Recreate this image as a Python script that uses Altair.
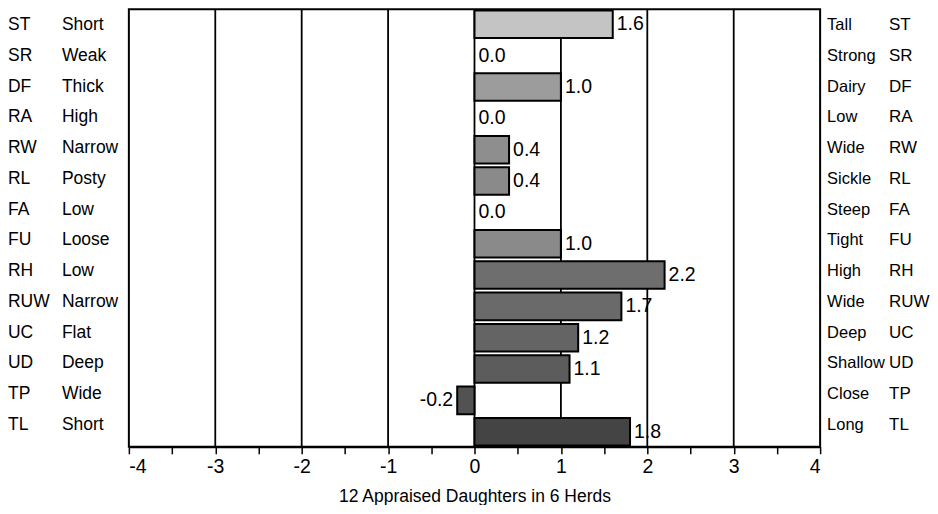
import altair as alt
import pandas as pd

codes = ["ST", "SR", "DF", "RA", "RW", "RL", "FA", "FU", "RH", "RUW", "UC", "UD", "TP", "TL"]
low_desc = ["Short", "Weak", "Thick", "High", "Narrow", "Posty", "Low", "Loose", "Low", "Narrow", "Flat", "Deep", "Wide", "Short"]
high_desc = ["Tall", "Strong", "Dairy", "Low", "Wide", "Sickle", "Steep", "Tight", "High", "Wide", "Deep", "Shallow", "Close", "Long"]
values = [1.6, 0.0, 1.0, 0.0, 0.4, 0.4, 0.0, 1.0, 2.2, 1.7, 1.2, 1.1, -0.2, 1.8]
colors = ["#c4c4c4", "#9c9c9c", "#9c9c9c", "#9c9c9c", "#8e8e8e", "#8a8a8a", "#8a8a8a",
          "#8a8a8a", "#6e6e6e", "#6a6a6a", "#646464", "#5c5c5c", "#525252", "#444444"]
grid_vals = [-3, -2, -1, 0, 1, 2, 3]
tick_vals = [-4, -3.5, -3, -2.5, -2, -1.5, -1, -0.5, 0, 0.5, 1, 1.5, 2, 2.5, 3, 3.5, 4]
x_title = "12 Appraised Daughters in 6 Herds"

df = pd.DataFrame({
    "code": codes, "low": low_desc, "high": high_desc, "value": values,
    "color": colors, "label": [f"{v:.1f}" for v in values],
    "idx": list(range(len(codes))),
})
grid_df = pd.DataFrame({"g": grid_vals})

FONT = "Liberation Sans"
W, H = 692, 438

xscale = alt.Scale(domain=[-4, 4], nice=False)
yenc = alt.Y("code:N", sort=codes, axis=None,
             scale=alt.Scale(domain=codes, paddingInner=0.12, paddingOuter=0.04))
# side category labels sit on their own, slightly tighter spacing
yside = alt.Y("idx:Q", axis=None,
              scale=alt.Scale(domain=[-0.52, 13.715], reverse=True, nice=False, zero=False))

grid = alt.Chart(grid_df).mark_rule(color="black", strokeWidth=1.8).encode(
    x=alt.X("g:Q", scale=xscale)
)

bars = alt.Chart(df).transform_filter("datum.value != 0").mark_bar(
    stroke="black", strokeWidth=2
).encode(
    x=alt.X("value:Q", scale=xscale,
            axis=alt.Axis(values=tick_vals,
                          labelExpr="datum.value % 1 == 0 ? ('' + datum.value) : ''",
                          grid=False, domain=True, domainColor="black", domainWidth=2,
                          tickColor="black", tickWidth=1.5, tickSize=7,
                          labelFont=FONT, labelFontSize=19.5, labelColor="black",
                          labelPadding=4, title=x_title, titleFont=FONT, titleFontSize=17.5,
                          titleFontWeight="normal", titleColor="black", titlePadding=11)),
    x2=alt.datum(0),
    y=yenc,
    color=alt.Color("color:N", scale=None),
)

pos_labels = alt.Chart(df).transform_filter("datum.value >= 0").mark_text(
    align="left", baseline="middle", dx=4, dy=0, fontSize=19.5, font=FONT, color="black"
).encode(x=alt.X("value:Q", scale=xscale), y=yenc, text="label:N")

neg_labels = alt.Chart(df).transform_filter("datum.value < 0").mark_text(
    align="right", baseline="middle", dx=-4, fontSize=19.5, font=FONT, color="black"
).encode(x=alt.X("value:Q", scale=xscale), y=yenc, text="label:N")

def side_text(field, xpix, size=17.5):
    return alt.Chart(df).mark_text(
        align="left", baseline="middle", dy=0, fontSize=size, font=FONT, color="black"
    ).encode(x=alt.value(xpix), y=yside, text=f"{field}:N")

main = alt.layer(grid, bars, pos_labels, neg_labels)
side = alt.layer(
    side_text("code", -121), side_text("low", -67),
    side_text("high", W + 7, 16.5), side_text("code", W + 69, 17)
)

chart = alt.layer(main, side).resolve_scale(
    y="independent"
).properties(
    width=W, height=H, padding=0
).configure_view(
    stroke="black", strokeWidth=2
)

chart.save("out.html", embed_options={"renderer": "svg", "actions": False})
